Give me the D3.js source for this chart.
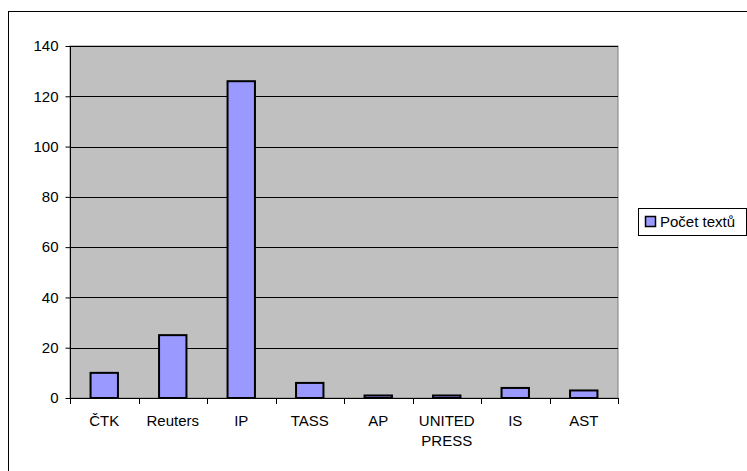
<!DOCTYPE html>
<html>
<head>
<meta charset="utf-8">
<title>Počet textů</title>
<script src="https://cdn.jsdelivr.net/npm/d3@7"></script>
<style>
body { margin: 0; background: #fff; }
svg text { font-family: "Liberation Sans", Arial, sans-serif; font-size: 15px; fill: #000; }
</style>
</head>
<body>
<script>
// data
var categories = ["ČTK", "Reuters", "IP", "TASS", "AP", "UNITED PRESS", "IS", "AST"];
var counts = [10, 25, 126, 6, 1, 1, 4, 3];
var yTicks = [0, 20, 40, 60, 80, 100, 120, 140];
var seriesName = "Počet textů";

var W = 747, H = 471;
var plot = {left: 70, top: 46, right: 618, bottom: 398};

var svg = d3.select("body").append("svg")
    .attr("width", W)
    .attr("height", H);

// outer chart border (runs off the canvas at right/bottom)
svg.append("rect")
    .attr("x", 8.5).attr("y", 11.5)
    .attr("width", 800).attr("height", 500)
    .attr("fill", "#fff").attr("stroke", "#000");

var x = d3.scaleBand().domain(categories)
    .range([plot.left, plot.right])
    .paddingInner(0.6).paddingOuter(0.3);
var xSlot = d3.scaleBand().domain(categories).range([plot.left, plot.right]);

var y = d3.scaleLinear().domain([0, 140]).range([plot.bottom, plot.top]);

// plot background
svg.append("rect")
    .attr("x", plot.left).attr("y", plot.top)
    .attr("width", plot.right - plot.left).attr("height", plot.bottom - plot.top)
    .attr("fill", "#c0c0c0").attr("stroke", "#808080");

// gridlines
svg.append("g").selectAll("line")
    .data(yTicks.slice(1))
  .enter().append("line")
    .attr("x1", plot.left).attr("x2", plot.right)
    .attr("y1", function(d) { return Math.round(y(d)) + 0.5; })
    .attr("y2", function(d) { return Math.round(y(d)) + 0.5; })
    .attr("stroke", "#000").attr("stroke-width", 1);

// bars
svg.append("g").selectAll("rect")
    .data(counts)
  .enter().append("rect")
    .attr("x", function(d, i) { return x(categories[i]); })
    .attr("y", function(d) { return y(d); })
    .attr("width", x.bandwidth())
    .attr("height", function(d) { return plot.bottom - y(d); })
    .attr("fill", "#9999ff")
    .attr("stroke", "#000")
    .attr("stroke-width", 2);

// y axis
var yAxis = svg.append("g")
    .attr("transform", "translate(" + (plot.left + 0.5) + ",0)")
    .call(d3.axisLeft(y).tickValues(yTicks).tickSize(5).tickPadding(7));
yAxis.select(".domain").attr("stroke", "#000").attr("d", "M0," + plot.top + "V" + plot.bottom);
yAxis.selectAll("text").style("font-size", "15px").style("font-family", "Liberation Sans, Arial, sans-serif");

// x axis line and ticks at slot boundaries
var xg = svg.append("g");
xg.append("line")
    .attr("x1", plot.left).attr("x2", plot.right)
    .attr("y1", plot.bottom + 0.5).attr("y2", plot.bottom + 0.5)
    .attr("stroke", "#000");
var bounds = categories.map(function(c) { return xSlot(c); }).concat([plot.right]);
xg.selectAll("line.tick")
    .data(bounds)
  .enter().append("line")
    .attr("class", "tick")
    .attr("x1", function(d) { return Math.round(d) + 0.5; })
    .attr("x2", function(d) { return Math.round(d) + 0.5; })
    .attr("y1", plot.bottom).attr("y2", plot.bottom + 6)
    .attr("stroke", "#000");

// category labels (UNITED PRESS wraps onto two lines)
var labels = xg.selectAll("text.cat")
    .data(categories)
  .enter().append("text")
    .attr("class", "cat")
    .attr("text-anchor", "middle")
    .attr("x", function(d) { return xSlot(d) + xSlot.bandwidth() / 2; })
    .attr("y", 426);
labels.each(function(d) {
  var words = d.split(" ");
  var t = d3.select(this);
  words.forEach(function(w, i) {
    t.append("tspan")
      .attr("x", xSlot(d) + xSlot.bandwidth() / 2)
      .attr("dy", i === 0 ? 0 : 20)
      .text(w);
  });
});

// legend
var lg = svg.append("g");
lg.append("rect")
    .attr("x", 638.5).attr("y", 208.5)
    .attr("width", 108).attr("height", 27)
    .attr("fill", "#fff").attr("stroke", "#000");
lg.append("rect")
    .attr("x", 645.5).attr("y", 216.5)
    .attr("width", 10).attr("height", 10)
    .attr("fill", "#9999ff").attr("stroke", "#000").attr("stroke-width", 1.5);
lg.append("text")
    .attr("x", 660).attr("y", 227)
    .text(seriesName);
</script>
</body>
</html>
